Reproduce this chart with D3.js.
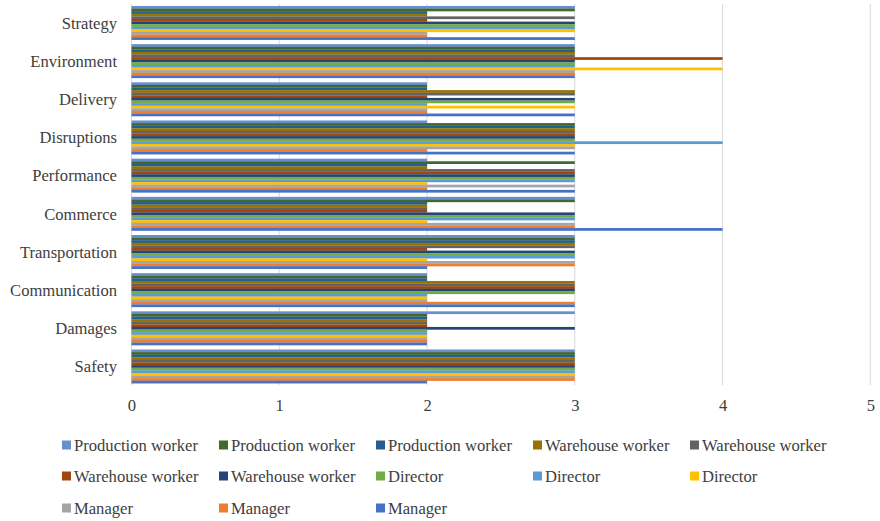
<!DOCTYPE html>
<html><head><meta charset="utf-8">
<script src="https://cdn.jsdelivr.net/npm/d3@7"></script>
</head><body><svg id="c" width="880" height="521" font-family="Liberation Serif" style="position:absolute;left:0;top:0"></svg>
<script>
const categories = ["Strategy","Environment","Delivery","Disruptions","Performance","Commerce","Transportation","Communication","Damages","Safety"];
const seriesNames = ["Production worker","Production worker","Production worker","Warehouse worker","Warehouse worker","Warehouse worker","Warehouse worker","Director","Director","Director","Manager","Manager","Manager"];
const seriesColors = ["#698ED0","#43682B","#255E91","#997300","#636363","#9E480E","#264478","#70AD47","#5B9BD5","#FFC000","#A5A5A5","#ED7D31","#4472C4"];
// values per category, one per series (series order = legend order)
const valStrategy      = [3,3,2,2,3,2,3,3,3,3,2,2,3];
const valEnvironment   = [3,3,3,3,3,4,3,3,3,4,3,3,3];
const valDelivery      = [2,2,2,3,3,2,3,3,2,3,2,2,3];
const valDisruptions   = [2,3,3,3,3,3,3,3,4,3,3,2,3];
const valPerformance   = [2,3,2,2,3,3,3,3,3,2,3,2,3];
const valCommerce      = [3,3,2,2,2,2,3,3,3,2,3,3,4];
const valTransportation= [3,3,3,3,3,2,3,3,3,2,3,3,2];
const valCommunication = [2,2,2,3,3,3,3,3,2,2,2,3,3];
const valDamages       = [3,2,2,2,2,2,3,2,2,2,2,2,2];
const valSafety        = [3,3,3,3,3,3,3,3,3,3,3,3,2];
const xTicks = [0,1,2,3,4,5];

const values = [valStrategy,valEnvironment,valDelivery,valDisruptions,valPerformance,valCommerce,valTransportation,valCommunication,valDamages,valSafety];

const svg = d3.select("#c");
const x = d3.scaleLinear().domain([0,5]).range([131.5,870.3]);
const y = d3.scaleBand().domain(categories).range([3.8,385.5]).paddingInner(0.114).paddingOuter(0.057);
const ys = d3.scaleBand().domain(d3.range(seriesNames.length)).range([0,y.bandwidth()]);

function styleText(sel){
  sel.style("font-family","\"Liberation Serif\"").style("font-size","16.6px").style("fill","#404040");
}

// gridlines
svg.append("g").selectAll("line").data(xTicks).join("line")
  .attr("x1",d=>x(d)).attr("x2",d=>x(d)).attr("y1",4).attr("y2",385)
  .attr("stroke","#d9d9d9").attr("stroke-width",1);

// bars
const groups = svg.append("g").selectAll("g").data(categories).join("g")
  .attr("transform",d=>`translate(0,${y(d)})`);
groups.selectAll("rect").data((d,i)=>values[i].map((v,j)=>({v,j}))).join("rect")
  .attr("x",x(0)).attr("y",d=>ys(d.j)).attr("height",ys.bandwidth()+0.15)
  .attr("width",d=>x(d.v)-x(0)).attr("fill",d=>seriesColors[d.j]);

// category labels
svg.append("g").selectAll("text").data(categories).join("text")
  .attr("x",117).attr("y",d=>y(d)+y.bandwidth()/2).attr("dy","0.35em")
  .attr("text-anchor","end").call(styleText).text(d=>d);

// x axis labels
const xAxis = d3.axisBottom(x).tickValues(xTicks).tickFormat(d3.format("d")).tickSize(0).tickPadding(0);
const ax = svg.append("g").attr("transform","translate(0,396)").call(xAxis).attr("font-family","Liberation Serif");
ax.select(".domain").remove();
ax.selectAll("text").call(styleText).attr("dy","0.9em");

// legend
const legCols = [62,219,376,533,690];
const legRows = [445,476,508];
const leg = svg.append("g").selectAll("g").data(seriesNames).join("g")
  .attr("transform",(d,i)=>`translate(${legCols[i%5]},${legRows[Math.floor(i/5)]})`);
leg.append("rect").attr("x",0).attr("y",-4.5).attr("width",9).attr("height",9).attr("fill",(d,i)=>seriesColors[i]);
leg.append("text").attr("x",12).attr("y",0).attr("dy","0.35em").call(styleText).text(d=>d);
</script></body></html>
